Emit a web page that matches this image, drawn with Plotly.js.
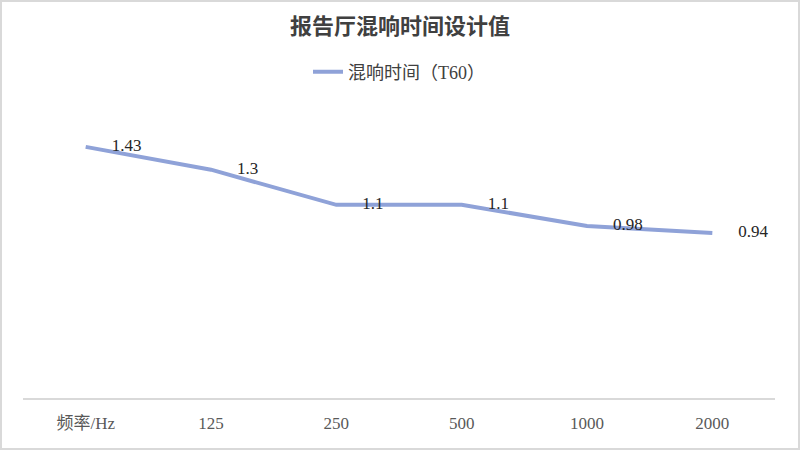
<!DOCTYPE html>
<html>
<head>
<meta charset="utf-8">
<script src="https://cdn.plot.ly/plotly-3.0.1.min.js"></script>
<style>
  body { margin: 0; background: #fff; }
  #frame { width: 800px; height: 450px; box-sizing: border-box; border: 2px solid #d9d9d9; }
  #plot { width: 796px; height: 446px; }
</style>
</head>
<body>
<div id="frame"><div id="plot"></div></div>
<script>
// reverberation time per frequency band
var categories = ['频率/Hz', '125', '250', '500', '1000', '2000'];
var t60 = [1.43, 1.3, 1.1, 1.1, 0.98, 0.94];

var serif = 'Liberation Serif, Noto Sans CJK SC, serif';

var trace = {
   name: '混响时间（T60）',
   x: categories,
   y: t60,
   type: 'scatter',
   mode: 'lines+markers+text',
   text: t60.map(String),
   textposition: 'middle right',
   textfont: {family: serif, size: 17, color: '#262626'},
   line: {color: '#8FA2D8', width: 4},
   // invisible markers only push the labels away from the points
   marker: {size: 40, color: 'rgba(0,0,0,0)'},
   hoverinfo: 'x+y',
   cliponaxis: false
};

var layout = {
   width: 796,
   height: 446,
   margin: {l: 21, r: 23, t: 115, b: 50},
   paper_bgcolor: '#ffffff',
   plot_bgcolor: '#ffffff',
   title: {
      text: '<b>报告厅混响时间设计值</b>',
      font: {family: serif, size: 22, color: '#404040'},
      x: 0.5,
      xanchor: 'center',
      y: 0.946,
      yref: 'container',
      yanchor: 'middle'
   },
   showlegend: true,
   legend: {
      orientation: 'h',
      x: 0.5,
      xanchor: 'center',
      y: 1.16,
      yanchor: 'middle',
      font: {family: serif, size: 18, color: '#404040'}
   },
   xaxis: {
      type: 'category',
      range: [-0.5, 5.5],
      showgrid: false,
      zeroline: false,
      showline: true,
      linecolor: '#d9d9d9',
      linewidth: 2,
      ticks: '',
      ticklabelstandoff: 9,
      tickfont: {family: serif, size: 17, color: '#595959'}
   },
   yaxis: {
      range: [0, 1.6],
      showgrid: false,
      zeroline: false,
      showticklabels: false,
      ticks: ''
   }
};

Plotly.newPlot('plot', [trace], layout, {displayModeBar: false, staticPlot: true});
</script>
</body>
</html>
